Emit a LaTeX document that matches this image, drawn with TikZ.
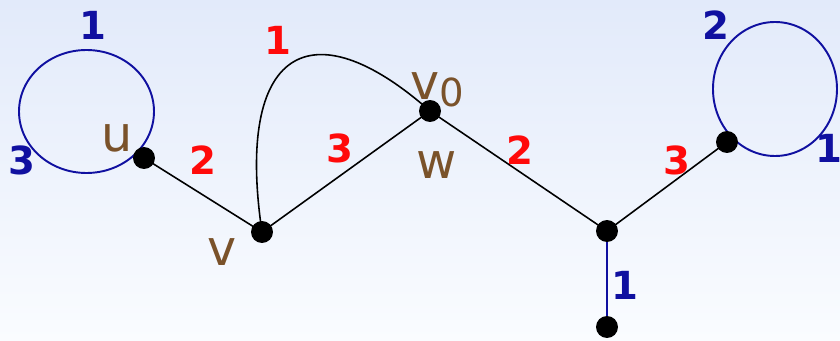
\documentclass[tikz,border=0pt]{standalone}
\usepackage{fontspec}
\setmainfont{DejaVu Sans}
\usetikzlibrary{positioning, calc}
\definecolor{cEdgeBlue}{RGB}{16,16,160}
\definecolor{cLabRed}{RGB}{255,10,10}
\definecolor{cBrown}{RGB}{122,82,42}
\definecolor{cSkyTop}{RGB}{226,234,250}
\definecolor{cSkyBot}{RGB}{250,252,255}
\tikzset{
	vtx/.style      ={circle, fill=black, minimum size=0.44cm, inner sep=0pt},
	plain/.style    ={line width=0.9pt, black},
	bluedge/.style  ={line width=1.1pt, cEdgeBlue},
	numred/.style   ={text=cLabRed, font=\fontsize{22}{24}\selectfont\bfseries},
	numblue/.style  ={text=cEdgeBlue, font=\fontsize{22}{24}\selectfont\bfseries},
	vname/.style    ={text=cBrown, font=\fontsize{28}{30}\selectfont},
}

\begin{document}
\begin{tikzpicture}[x=0.02cm, y=-0.02cm]
	\useasboundingbox (0,0) rectangle (840,341);
	\shade[top color=cSkyTop, bottom color=cSkyBot] (0,0) rectangle (840,341);
	% vertex positions
	\coordinate (u) at (144,158);
	\coordinate (v) at (262,232);
	\coordinate (v0) at (430,111);
	\coordinate (y) at (607,231);
	\coordinate (r) at (727,142);
	\coordinate (b) at (607,327);
	% loops
	\draw[bluedge] (86.5,111.5) ellipse (67.5 and 61.5);
	\draw[bluedge] (775,89) ellipse (62 and 67);
	% edges
	\draw[plain] (u) -- (v);
	\draw[plain] (v) -- (v0);
	\draw[plain] (v) .. controls (235,50) and (310,5) .. (v0);
	\draw[plain] (v0) -- (y);
	\draw[plain] (y) -- (r);
	\draw[bluedge] (y) -- (b);
	% dots
	\foreach \p in {u,v,v0,y,r,b}
		\node[vtx] (d\p) at (\p) {};
	% vertex names
	\node[vname] (lu) at (117,138) {u};
	\node[vname] (lv) at (222,252) {v};
	\node[vname] (lv0) at (437,90) {v\raisebox{-0.25ex}{\fontsize{22}{24}\selectfont 0}};
	\node[vname] (lw) at (437,165) {w};
	% edge labels
	\node[numblue] (n1) at (93,25) {1};
	\node[numblue] (n2) at (22,160) {3};
	\node[numred] (n3) at (203,160) {2};
	\node[numred] (n4) at (278,40) {1};
	\node[numred] (n5) at (340,148) {3};
	\node[numred] (n6) at (520,150) {2};
	\node[numred] (n7) at (677,160) {3};
	\node[numblue] (n8) at (716,25) {2};
	\node[numblue] (n9) at (829,148) {1};
	\node[numblue] (n10) at (625,285) {1};
\end{tikzpicture}
\end{document}
